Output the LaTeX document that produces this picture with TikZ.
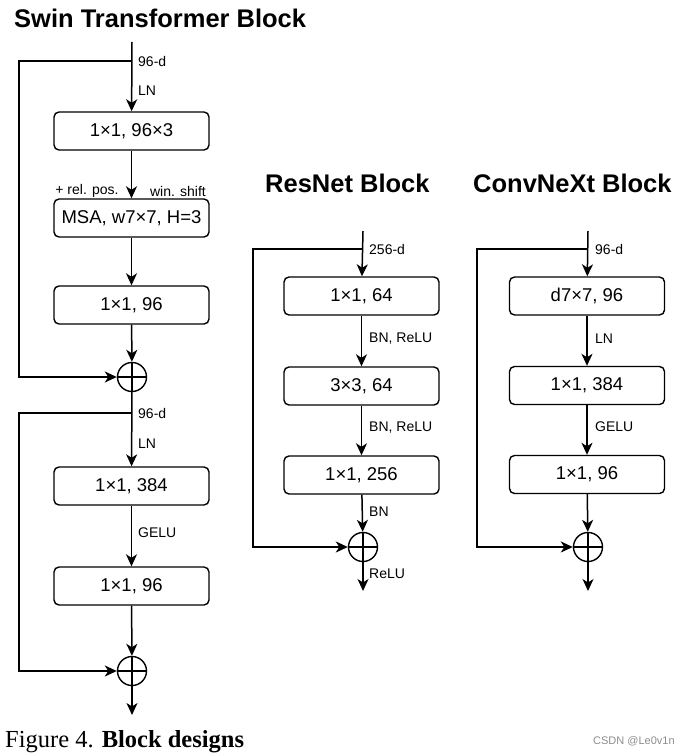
\documentclass[tikz,border=0pt]{standalone}
\usepackage{fontspec}
\setmainfont{Liberation Sans}
\newfontfamily\capfont{Liberation Serif}
\usepackage{tikz}
\usetikzlibrary{arrows.meta,positioning,calc}

\begin{document}
\begin{tikzpicture}
  [x=1pt,y=-1pt,
   layer/.style={rectangle,rounded corners=5pt,draw=black,line width=1.4pt,
                 minimum width=155pt,minimum height=38pt,inner sep=0pt,
                 font=\fontsize{18.5}{20}\selectfont},
   addnode/.style={circle,draw=black,line width=1.4pt,minimum size=29pt,inner sep=0pt,
                   path picture={\draw[line width=1.4pt]
                     (path picture bounding box.north) -- (path picture bounding box.south)
                     (path picture bounding box.west) -- (path picture bounding box.east);}},
   lbl/.style={anchor=west,inner sep=0pt,font=\fontsize{14}{15}\selectfont},
   ttl/.style={anchor=base west,inner sep=0pt,font=\fontsize{25.5}{28}\selectfont\bfseries},
   flow/.style={line width=1.5pt,-{Stealth[length=12pt,width=11pt,inset=3.5pt]}},
   line/.style={line width=1.5pt}]
  \useasboundingbox (0,0) rectangle (689,754);

  % Swin Transformer
  \node at (14,28) [ttl] (swTitle) {Swin Transformer Block};
  \coordinate (swIn) at (132,42);
  \coordinate (swSplitA) at (132,61);
  \node at (131.5,131) [layer] (swQkv) {1×1, 96×3};
  \node at (131.5,218) [layer] (swMsa) {MSA, w7×7, H=3};
  \node at (131.5,305) [layer] (swProj) {1×1, 96};
  \node at (132,377) [addnode] (swAddA) {};
  \coordinate (swSplitB) at (132,413);
  \node at (131.5,486) [layer] (swFc1) {1×1, 384};
  \node at (131.5,586) [layer] (swFc2) {1×1, 96};
  \node at (132,671) [addnode] (swAddB) {};
  \coordinate (swOut) at (132,715);
  \draw[flow] (swIn) -- (swQkv);
  \draw[flow] (swQkv) -- (swMsa);
  \draw[flow] (swMsa) -- (swProj);
  \draw[flow] (swProj) -- (swAddA);
  \draw[flow] (swSplitA) -- (19,61) |- (swAddA);
  \draw[flow] (swAddA) -- (swFc1);
  \draw[flow] (swFc1) -- (swFc2);
  \draw[flow] (swFc2) -- (swAddB);
  \draw[flow] (swSplitB) -- (19,413) |- (swAddB);
  \draw[flow] (swAddB) -- (swOut);
  \node at (138,61) [lbl] (swDimA) {96-d};
  \node at (138,91) [lbl] (swLnA) {LN};
  \node at (87,191) [lbl,anchor=center] (swPos) {+ rel. pos.};
  \node at (178,191) [lbl,anchor=center] (swShift) {win. shift};
  \node at (138,413) [lbl] (swDimB) {96-d};
  \node at (138,444) [lbl] (swLnB) {LN};
  \node at (138,533) [lbl] (swAct) {GELU};

  % ResNet
  \node at (265,193) [ttl] (rnTitle) {ResNet Block};
  \coordinate (rnIn) at (363,231);
  \coordinate (rnSplit) at (363,249);
  \node at (361.5,296) [layer] (rnRed) {1×1, 64};
  \node at (361.5,386) [layer] (rnConv) {3×3, 64};
  \node at (361.5,475) [layer] (rnExp) {1×1, 256};
  \node at (363,547) [addnode] (rnAdd) {};
  \coordinate (rnOut) at (363,591);
  \draw[flow] (rnIn) -- (rnRed);
  \draw[flow] (rnRed) -- (rnConv);
  \draw[flow] (rnConv) -- (rnExp);
  \draw[flow] (rnExp) -- (rnAdd);
  \draw[flow] (rnSplit) -- (253,249) |- (rnAdd);
  \draw[flow] (rnAdd) -- (rnOut);
  \node at (369,249) [lbl] (rnDim) {256-d};
  \node at (369,339) [lbl] (rnActA) {BN, ReLU};
  \node at (369,428) [lbl] (rnActB) {BN, ReLU};
  \node at (369,512) [lbl] (rnNorm) {BN};
  \node at (369,574) [lbl] (rnActC) {ReLU};

  % ConvNeXt
  \node at (473,193) [ttl] (cnTitle) {ConvNeXt Block};
  \coordinate (cnIn) at (588,231);
  \coordinate (cnSplit) at (588,249);
  \node at (587,296) [layer] (cnDw) {d7×7, 96};
  \node at (587,385.5) [layer] (cnFc1) {1×1, 384};
  \node at (587,474.5) [layer] (cnFc2) {1×1, 96};
  \node at (588,547) [addnode] (cnAdd) {};
  \coordinate (cnOut) at (588,591);
  \draw[flow] (cnIn) -- (cnDw);
  \draw[flow] (cnDw) -- (cnFc1);
  \draw[flow] (cnFc1) -- (cnFc2);
  \draw[flow] (cnFc2) -- (cnAdd);
  \draw[flow] (cnSplit) -- (477,249) |- (cnAdd);
  \draw[flow] (cnAdd) -- (cnOut);
  \node at (595,249) [lbl] (cnDim) {96-d};
  \node at (595,339) [lbl] (cnNorm) {LN};
  \node at (595,427) [lbl] (cnAct) {GELU};

  % caption
  \node at (5,747) [anchor=base west,inner sep=0pt,font=\fontsize{24.5}{26}\selectfont\capfont]
    (caption) {Figure 4. \textbf{Block designs}};
  \node at (593,741) [anchor=west,inner sep=0pt,text=black!45,font=\fontsize{11}{12}\selectfont]
    (mark) {CSDN @Le0v1n};
\end{tikzpicture}
\end{document}
